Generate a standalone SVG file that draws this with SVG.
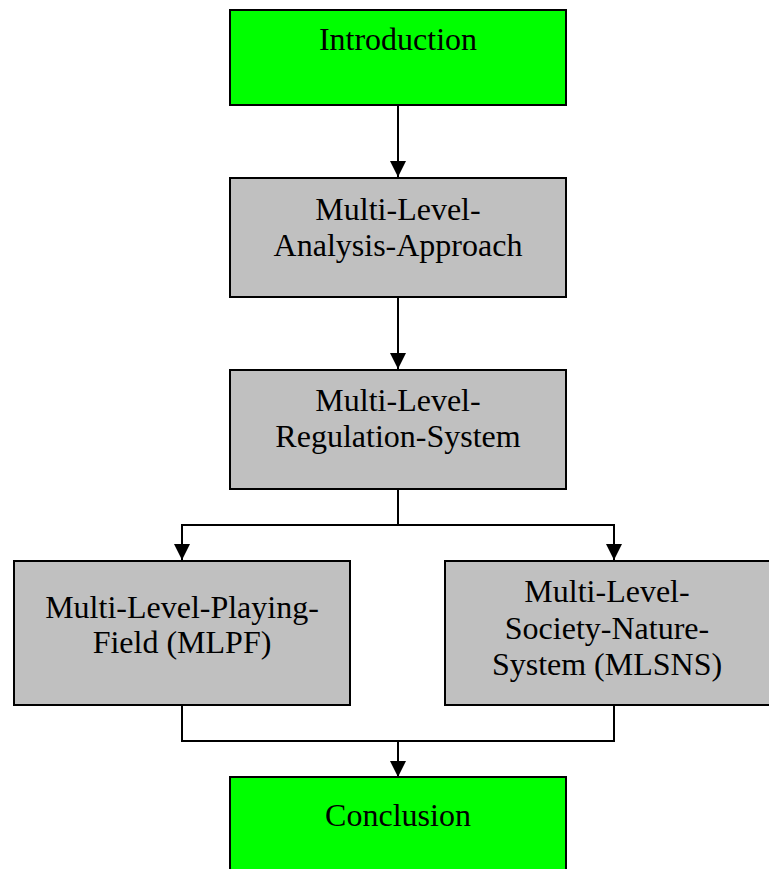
<svg xmlns="http://www.w3.org/2000/svg" width="769" height="869" viewBox="0 0 769 869">
<style>
.green{fill:#00ff00;stroke:#000;stroke-width:2}
.gray{fill:#c0c0c0;stroke:#000;stroke-width:2}
.t{font-family:"Liberation Serif","Times New Roman",serif;font-size:32px;fill:#000;text-anchor:middle}
.c{fill:none;stroke:#000;stroke-width:2}
</style>
<defs>
<marker id="ah" markerUnits="userSpaceOnUse" markerWidth="16" markerHeight="16" refX="14" refY="7" orient="auto" viewBox="0 0 14 14">
<path d="M0,0 L14,7 L0,14 Z" fill="#000"/>
</marker>
</defs>
<rect width="769" height="869" fill="#fff"/>
<g id="connectors">
<path class="c" d="M398,105 V177" marker-end="url(#ah)"/>
<path class="c" d="M398,297 V369" marker-end="url(#ah)"/>
<path class="c" d="M398,489 V525 H182 V560" marker-end="url(#ah)"/>
<path class="c" d="M398,525 H614 V560" marker-end="url(#ah)"/>
<path class="c" d="M182,705 V741 H614 V705"/>
<path class="c" d="M398,741 V777" marker-end="url(#ah)"/>
</g>
<g id="introduction">
<rect class="green" x="230" y="10" width="336" height="95"/>
<text class="t" x="398" y="50">Introduction</text>
</g>
<g id="analysis">
<rect class="gray" x="230" y="178" width="336" height="119"/>
<text class="t" x="398" y="220">Multi-Level-</text>
<text class="t" x="398" y="256">Analysis-Approach</text>
</g>
<g id="regulation">
<rect class="gray" x="230" y="370" width="336" height="119"/>
<text class="t" x="398" y="411">Multi-Level-</text>
<text class="t" x="398" y="447">Regulation-System</text>
</g>
<g id="mlpf">
<rect class="gray" x="14" y="561" width="336" height="144"/>
<text class="t" x="182" y="618">Multi-Level-Playing-</text>
<text class="t" x="182" y="653">Field (MLPF)</text>
</g>
<g id="mlsns">
<rect class="gray" x="445" y="561" width="336" height="144"/>
<text class="t" x="607" y="602">Multi-Level-</text>
<text class="t" x="607" y="639">Society-Nature-</text>
<text class="t" x="607" y="675">System (MLSNS)</text>
</g>
<g id="conclusion">
<rect class="green" x="230" y="777" width="336" height="100"/>
<text class="t" x="398" y="826">Conclusion</text>
</g>
</svg>
